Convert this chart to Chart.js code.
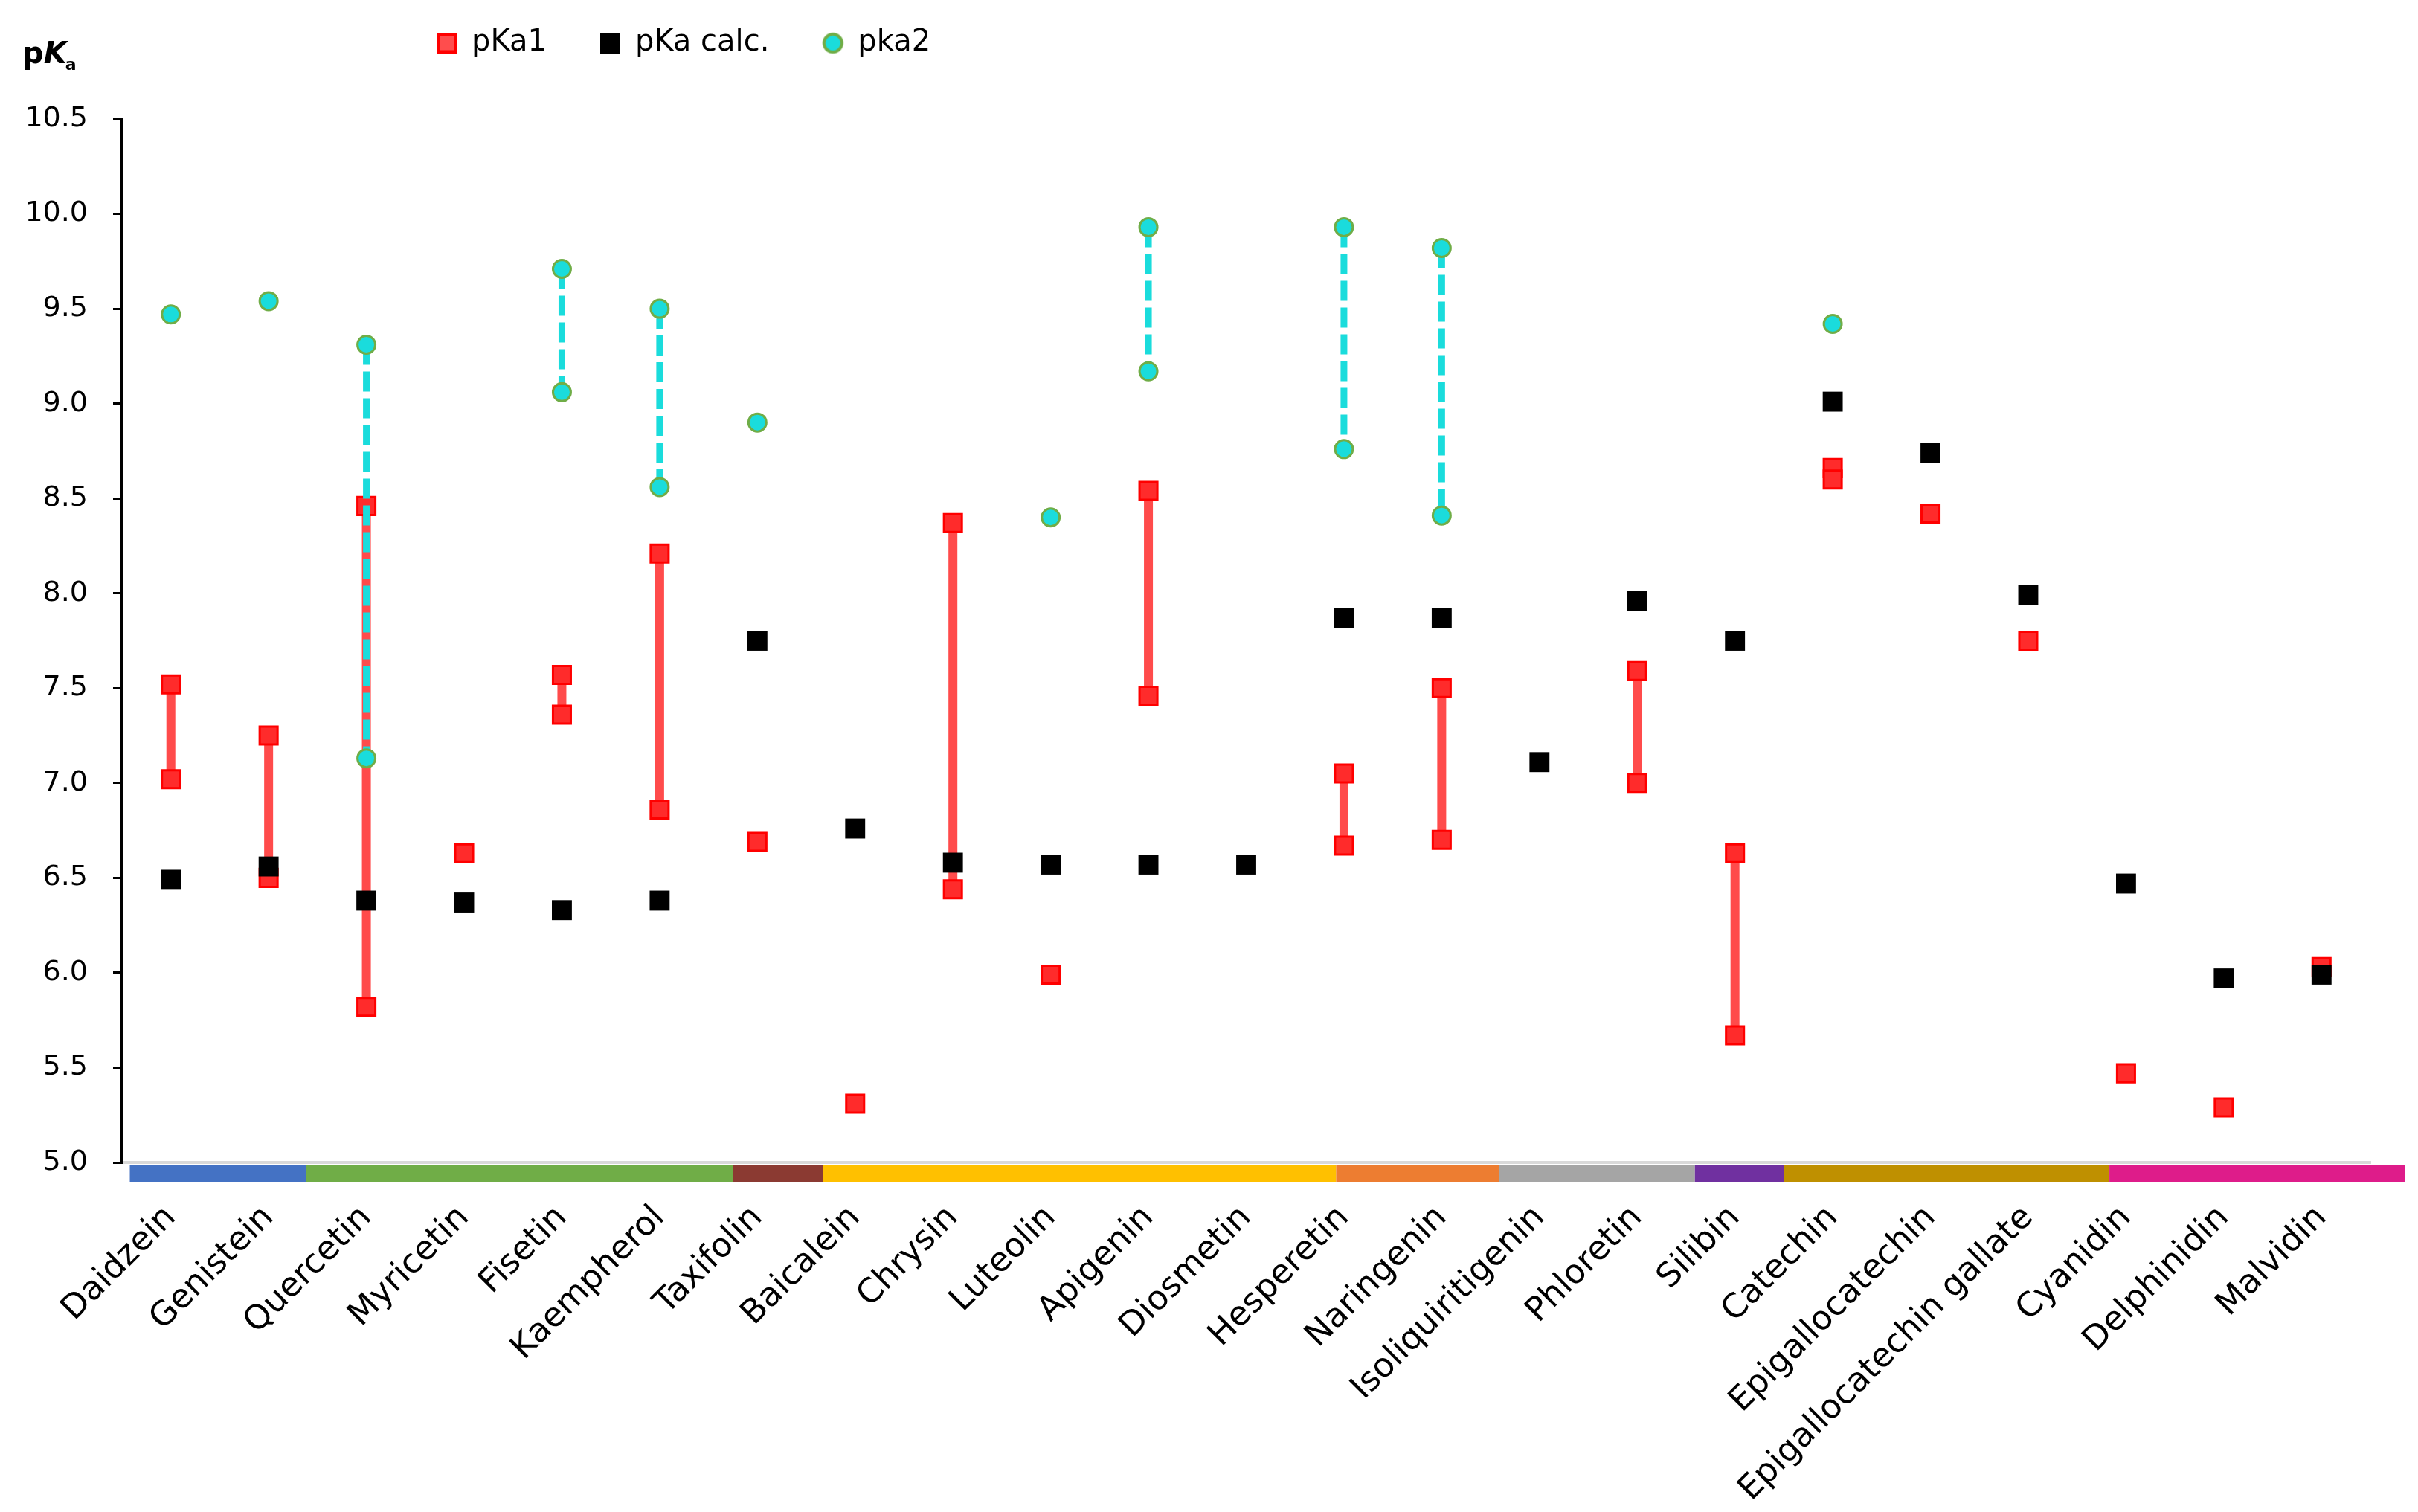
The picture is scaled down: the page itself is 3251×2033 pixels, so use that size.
<!DOCTYPE html>
<html>
<head>
<meta charset="utf-8">
<script src="https://cdn.jsdelivr.net/npm/chart.js@4.4.1/dist/chart.umd.min.js"></script>
<style>
html,body{margin:0;padding:0;background:#ffffff;}
#wrap{width:3251px;height:2033px;position:relative;}
</style>
</head>
<body>
<div id="wrap"><canvas id="c" width="3251" height="2033"></canvas></div>
<script>
// ---------- data ----------
const categories = ['Daidzein','Genistein','Quercetin','Myricetin','Fisetin','Kaempherol','Taxifolin',
  'Baicalein','Chrysin','Luteolin','Apigenin','Diosmetin','Hesperetin','Naringenin','Isoliquiritigenin',
  'Phloretin','Silibin','Catechin','Epigallocatechin','Epigallocatechin gallate','Cyanidin','Delphinidin','Malvidin'];

const pKa1First  = [7.52, 7.25, 8.46, 6.63, 7.57, 8.21, 6.69, 5.31, 8.37, 5.99, 8.54, null, 7.05, 7.50, null, 7.59, 6.63, 8.66, 8.42, 7.75, 5.47, 5.29, 6.03];
const pKa1Second = [7.02, 6.50, 5.82, null, 7.36, 6.86, null, null, 6.44, null, 7.46, null, 6.67, 6.70, null, 7.00, 5.67, 8.60, null, null, null, null, null];
const pKaCalc    = [6.49, 6.56, 6.38, 6.37, 6.33, 6.38, 7.75, 6.76, 6.58, 6.57, 6.57, 6.57, 7.87, 7.87, 7.11, 7.96, 7.75, 9.01, 8.74, 7.99, 6.47, 5.97, 5.99];
const pKa2First  = [9.47, 9.54, 9.31, null, 9.71, 9.50, 8.90, null, null, 8.40, 9.93, null, 9.93, 9.82, null, null, null, 9.42, null, null, null, null, null];
const pKa2Second = [null, null, 7.13, null, 9.06, 8.56, null, null, null, null, 9.17, null, 8.76, 8.41, null, null, null, null, null, null, null, null, null];

const yTickValues = [5.0, 5.5, 6.0, 6.5, 7.0, 7.5, 8.0, 8.5, 9.0, 9.5, 10.0, 10.5];

// class colour band under the x axis (edges in category units)
const groupEdges  = [-0.42, 1.385, 5.75, 6.67, 11.92, 13.59, 15.59, 16.50, 19.83, 22.85];
const groupColors = ['#4472C4', '#70AD47', '#8B3A32', '#FFC000', '#ED7D31', '#A5A5A5', '#7030A0', '#BF9000', '#DE1C8A'];

const seriesNames = ['pKa1', 'pKa calc.', 'pka2'];

// ---------- helpers ----------
function pairSeries(first, second) {
  const pts = [];
  categories.forEach((c, i) => {
    if (first[i] != null) pts.push({x: c, y: first[i]});
    if (second[i] != null) pts.push({x: c, y: second[i]});
    pts.push({x: c, y: null});
  });
  return pts;
}

function makeIcon(kind) {
  const cv = document.createElement('canvas');
  const s = kind === 'circle' ? 31 : 27;
  cv.width = s; cv.height = s;
  const g = cv.getContext('2d');
  if (kind === 'red') {
    g.fillStyle = '#FF0000'; g.fillRect(0, 0, s, s);
    g.fillStyle = '#FF4D4D'; g.fillRect(4, 4, s - 8, s - 8);
  } else if (kind === 'black') {
    g.fillStyle = '#000000'; g.fillRect(0, 0, s, s);
  } else {
    g.beginPath(); g.arc(s / 2, s / 2, 12, 0, Math.PI * 2);
    g.fillStyle = '#1ADCDC'; g.fill();
    g.lineWidth = 4; g.strokeStyle = '#70AD47'; g.stroke();
  }
  return cv;
}
const legendIcons = [makeIcon('red'), makeIcon('black'), makeIcon('circle')];

// ---------- plugins ----------
const legendPlacer = {
  id: 'legendPlacer',
  afterLayout(chart) {
    const lg = chart.legend;
    if (lg) { lg.left = 515; lg.top = -34; }
  }
};

const classBand = {
  id: 'classBand',
  afterDraw(chart) {
    const xs = chart.scales.x;
    const ctx = chart.ctx;
    const top = chart.chartArea.bottom + 4;
    ctx.save();
    for (let i = 0; i < groupColors.length; i++) {
      const a = xs.getPixelForValue(groupEdges[i]);
      const b = xs.getPixelForValue(groupEdges[i + 1]);
      ctx.fillStyle = groupColors[i];
      ctx.fillRect(a, top, b - a, 22);
    }
    ctx.restore();
  }
};

const yTitle = {
  id: 'yTitle',
  afterDraw(chart) {
    const ctx = chart.ctx;
    ctx.save();
    ctx.fillStyle = '#000';
    ctx.textBaseline = 'alphabetic';
    ctx.textAlign = 'left';
    let x = 30; const y = 85;
    ctx.font = 'bold 40px "DejaVu Sans"';
    ctx.fillText('p', x, y); x += ctx.measureText('p').width;
    ctx.font = 'italic bold 40px "DejaVu Sans"';
    ctx.fillText('K', x, y); x += ctx.measureText('K').width - 2;
    ctx.font = 'bold 22px "DejaVu Sans"';
    ctx.fillText('a', x, y + 9);
    ctx.restore();
  }
};

// ---------- chart ----------
Chart.defaults.font.family = '"DejaVu Sans"';
Chart.defaults.color = '#000';

new Chart(document.getElementById('c'), {
  type: 'line',
  data: {
    labels: categories,
    datasets: [
      {
        label: seriesNames[0],
        data: pairSeries(pKa1First, pKa1Second),
        order: 3,
        showLine: true,
        spanGaps: false,
        borderColor: '#FF4B4B',
        borderWidth: 12,
        pointStyle: 'rect',
        pointRadius: 17,
        pointBackgroundColor: '#FF2B2B',
        pointBorderColor: '#FF0000',
        pointBorderWidth: 3
      },
      {
        label: seriesNames[1],
        data: pKaCalc,
        order: 1,
        showLine: false,
        pointStyle: 'rect',
        pointRadius: 19,
        pointBackgroundColor: '#000000',
        pointBorderColor: '#000000',
        pointBorderWidth: 0
      },
      {
        label: seriesNames[2],
        data: pairSeries(pKa2First, pKa2Second),
        order: 2,
        showLine: true,
        spanGaps: false,
        borderColor: '#1ADCDC',
        borderWidth: 9,
        borderDash: [27, 9],
        pointStyle: 'circle',
        pointRadius: 12,
        pointBackgroundColor: '#1ADCDC',
        pointBorderColor: '#70AD47',
        pointBorderWidth: 3
      }
    ]
  },
  options: {
    responsive: false,
    animation: false,
    devicePixelRatio: 1,
    events: [],
    layout: { padding: { left: 0, right: 64, top: 38, bottom: 0 } },
    plugins: {
      tooltip: { enabled: false },
      legend: {
        display: true,
        position: 'top',
        align: 'start',
        labels: {
          usePointStyle: true,
          boxWidth: 27,
          boxHeight: 27,
          padding: 72,
          color: '#000',
          font: { family: '"DejaVu Sans"', size: 40 },
          generateLabels: (chart) => chart.data.datasets.map((ds, i) => ({
            text: ds.label,
            pointStyle: legendIcons[i],
            fillStyle: '#000',
            strokeStyle: '#000',
            lineWidth: 0,
            hidden: false,
            datasetIndex: i,
            fontColor: '#000'
          }))
        }
      }
    },
    scales: {
      x: {
        type: 'category',
        offset: true,
        grid: { display: false, drawTicks: false, drawOnChartArea: false },
        border: { display: true, color: '#D9D9D9', width: 4 },
        ticks: {
          autoSkip: false,
          maxRotation: 45,
          minRotation: 45,
          padding: 48,
          color: '#000',
          font: { family: '"DejaVu Sans"', size: 45 }
        },
        afterFit: (scale) => { scale.height = 470; }
      },
      y: {
        type: 'linear',
        min: 5,
        max: 10.5,
        grid: { display: true, drawOnChartArea: false, drawTicks: true, tickLength: 12, color: '#000', lineWidth: 3 },
        border: { display: true, color: '#000', width: 4 },
        ticks: {
          padding: 34,
          color: '#000',
          font: { family: '"DejaVu Sans"', size: 38 },
          callback: (v) => Number(v).toFixed(1)
        },
        afterBuildTicks: (scale) => { scale.ticks = yTickValues.map(v => ({ value: v })); },
        afterFit: (scale) => { scale.width = 164; }
      }
    }
  },
  plugins: [legendPlacer, classBand, yTitle]
});
</script>
</body>
</html>
